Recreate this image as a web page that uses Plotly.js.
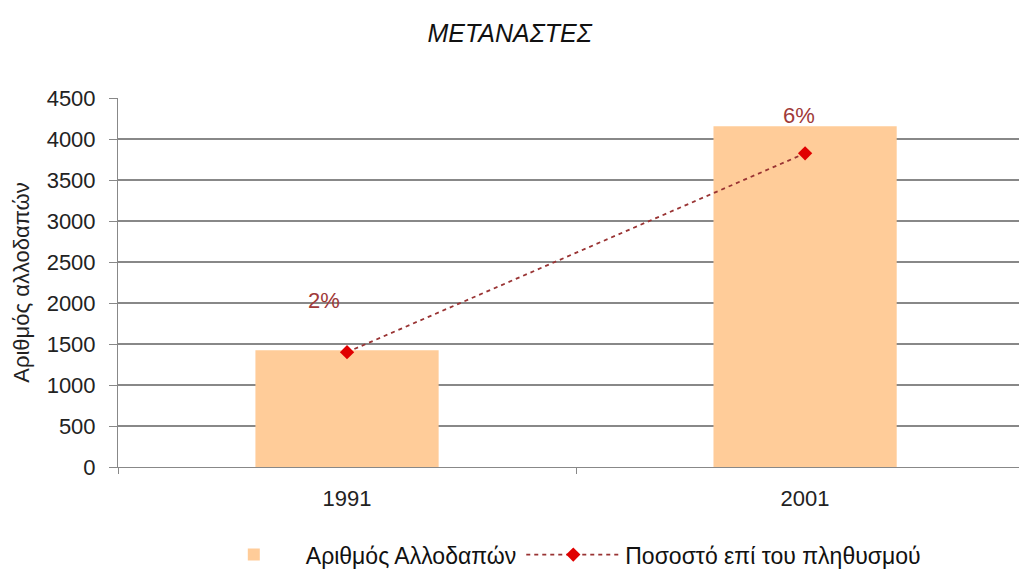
<!DOCTYPE html>
<html>
<head>
<meta charset="utf-8">
<script src="https://cdn.plot.ly/plotly-3.0.1.min.js"></script>
<style>html,body{margin:0;padding:0;background:#fff;}#chart{width:1019px;height:573px;}</style>
</head>
<body>
<div id="chart"></div>
<script>
const years = ['1991', '2001'];
const foreigners = [1425, 4155];
const shareLine = [1400, 3825];
const shareLabels = ['2%', '6%'];
const seriesNames = ['Αριθμός Αλλοδαπών', 'Ποσοστό επί του πληθυσμού'];
const labelShift = [52, 38];
const labelXShift = [-23, -6];

const font = 'Liberation Sans, Arial, sans-serif';

const traces = [
  {
    type: 'bar', x: years, y: foreigners, name: seriesNames[0],
    width: 0.4, marker: {color: '#FFCC99'}, hoverinfo: 'x+y'
  },
  {
    type: 'scatter', mode: 'lines+markers', x: years, y: shareLine, name: seriesNames[1],
    line: {color: '#993333', width: 1.8, dash: '4px,4px'},
    marker: {symbol: 'diamond', color: '#E00000', size: 11}
  }
];

const annotations = years.map((yr, i) => ({
  x: i, y: shareLine[i], xref: 'x', yref: 'y', text: shareLabels[i], showarrow: false,
  yshift: labelShift[i], xshift: labelXShift[i],
  font: {family: font, size: 22, color: '#A03A3A'}
}));

const layout = {
  width: 1019, height: 573,
  margin: {l: 118, r: 0, t: 98, b: 106, autoexpand: false},
  paper_bgcolor: '#fff', plot_bgcolor: '#fff',
  font: {family: font, size: 22, color: '#222'},
  title: {text: '<i>ΜΕΤΑΝΑΣΤΕΣ</i>', x: 0.5, xanchor: 'center', y: 0.942, yanchor: 'middle',
    font: {family: font, size: 25, color: '#111'}},
  showlegend: true,
  legend: {orientation: 'h', x: 0.093, xanchor: 'left', yref: 'container', y: 0.032, yanchor: 'middle',
    font: {family: font, size: 23, color: '#111'}, traceorder: 'normal', itemwidth: 94},
  xaxis: {
    type: 'category', range: [-0.5, 1.467], showgrid: false,
    showline: true, linecolor: '#888', linewidth: 1,
    ticks: 'outside', tickson: 'boundaries', ticklen: 6, tickcolor: '#888',
    ticklabelstandoff: 12,
    tickfont: {family: font, size: 22, color: '#222'}, fixedrange: true
  },
  yaxis: {
    range: [0, 4500], dtick: 500, showgrid: true, gridcolor: '#888888', gridwidth: 1.2,
    showline: true, linecolor: '#888', linewidth: 1, zeroline: false,
    ticks: 'outside', ticklen: 8, tickcolor: '#888',
    ticklabelstandoff: 9,
    tickfont: {family: font, size: 22, color: '#222'},
    title: {text: 'Αριθμός αλλοδαπών', standoff: 10, font: {family: font, size: 22, color: '#222'}}
  },
  annotations: annotations
};

Plotly.newPlot('chart', traces, layout, {displayModeBar: false, staticPlot: true});
</script>
</body>
</html>
